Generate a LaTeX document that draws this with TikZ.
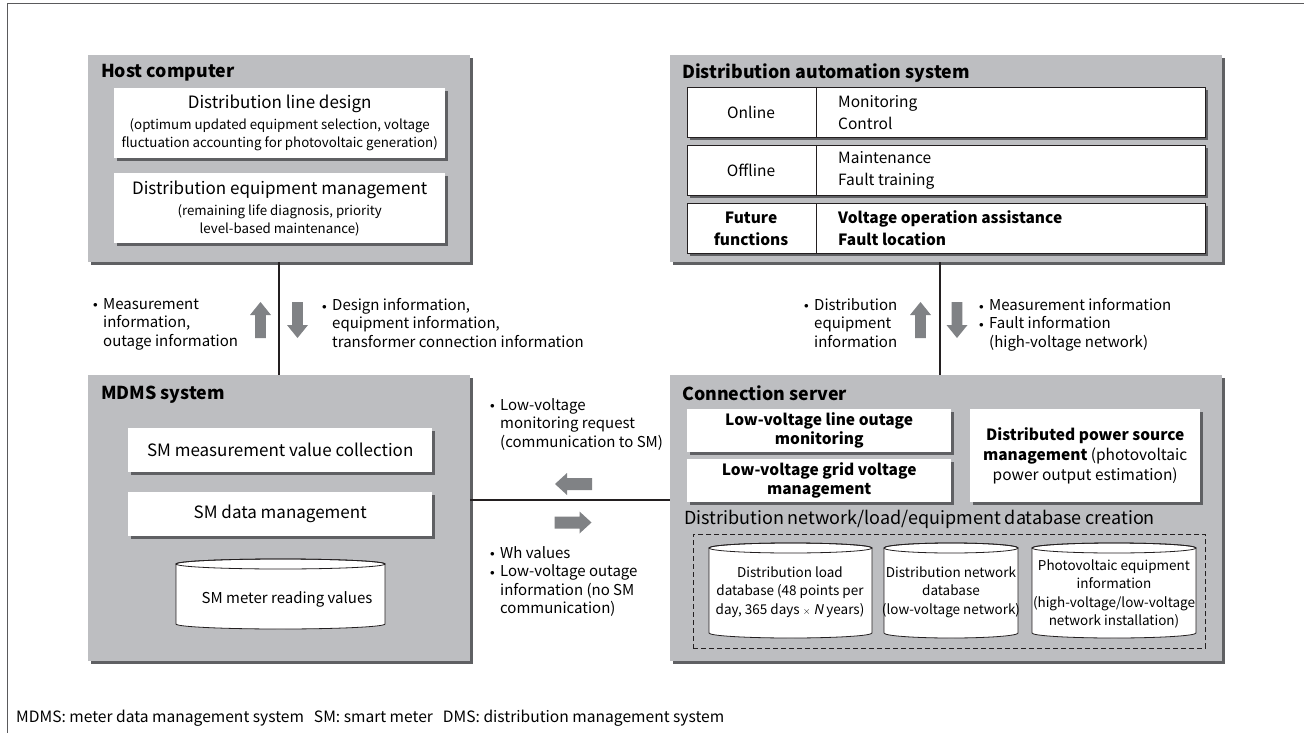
\documentclass[tikz,border=0pt]{standalone}
\usepackage{fontspec}
\usepackage{graphicx}
\setmainfont{Noto Sans CJK JP}[AutoFakeSlant=0.2]
\usetikzlibrary{shadows}

\definecolor{boxgray}{RGB}{189,190,193}
\definecolor{shadegray}{RGB}{95,96,99}
\definecolor{arrowgray}{RGB}{128,130,133}
\definecolor{ink}{RGB}{35,31,32}
\definecolor{framegray}{RGB}{90,90,92}

% type sizes (1pt = 1px of the final image)
\newcommand\fTitle{\fontsize{17.8}{21}\selectfont\bfseries}
\newcommand\fMid{\fontsize{15}{18.5}\selectfont}
\newcommand\fHead{\fontsize{17}{20}\selectfont}
\newcommand\fSub{\fontsize{13.3}{18}\selectfont}
\newcommand\fDas{\fontsize{15.5}{22}\selectfont}
\newcommand\fBold{\fontsize{15.5}{19}\selectfont\bfseries}
\newcommand\fRight{\fontsize{15.5}{20}\selectfont}
\newcommand\fCap{\fontsize{18}{21}\selectfont}
\newcommand\fCyl{\fontsize{13.5}{18.5}\selectfont}
\newcommand\fSM{\fontsize{17}{20}\selectfont}
\newcommand\fFoot{\fontsize{15.6}{18}\selectfont}

% list bullet and hanging indent
\newcommand\bul{\makebox[10pt][l]{\raisebox{1.2pt}{\fontsize{9}{9}\selectfont$\bullet$}}}
\newcommand\ind{\hspace*{10pt}}

% block arrows: centre x, centre y, direction (+1 right/down, -1 left/up)
\newcommand\harrow[3]{\fill[arrowgray] ({#1-#3*18.5},{#2-6}) -- ({#1+#3*6.5},{#2-6}) -- ({#1+#3*6.5},{#2-11}) -- ({#1+#3*18.5},#2) -- ({#1+#3*6.5},{#2+11}) -- ({#1+#3*6.5},{#2+6}) -- ({#1-#3*18.5},{#2+6}) -- cycle;}
\newcommand\varrow[3]{\fill[arrowgray] ({#1-5.3},{#2-#3*18}) -- ({#1-5.3},{#2+#3*5}) -- ({#1-10.5},{#2+#3*5}) -- (#1,{#2+#3*18}) -- ({#1+10.5},{#2+#3*5}) -- ({#1+5.3},{#2+#3*5}) -- ({#1+5.3},{#2-#3*18}) -- cycle;}

% database cylinder: x1, y1, x2, y2 (top-left and bottom-right), ellipse half-height 5
\newcommand\dbcyl[4]{%
  \filldraw[fill=white, draw=ink, line width=0.8pt]
    (#1,{#2+5}) -- (#1,{#4-5}) arc[start angle=180, end angle=0, x radius={(#3-#1)/2}, y radius=5]
    -- (#3,{#2+5}) arc[start angle=0, end angle=-180, x radius={(#3-#1)/2}, y radius=5] -- cycle;
  \draw[ink, line width=0.8pt] ({(#1+#3)/2},{#2+5}) ellipse[x radius={(#3-#1)/2}, y radius=5];}

\begin{document}
\begin{tikzpicture}[x=1pt, y=-1pt,
  shade/.style={drop shadow={shadow xshift=2.5pt, shadow yshift=-2.5pt, fill=shadegray, opacity=1}},
  panel/.style={fill=boxgray, draw=none, inner sep=0, anchor=north west, shade},
  wbox/.style={fill=white, draw=none, inner sep=0, anchor=north west, align=center, shade},
  rowbox/.style={fill=white, draw=ink, line width=0.8pt, inner sep=0, anchor=north west, shade},
  title/.style={font=\fTitle, inner sep=0, anchor=west},
  note/.style={font=\fMid, inner sep=0, anchor=north west, align=left},
  conn/.style={draw=ink, line width=1.5pt},
  dashbox/.style={draw=ink, line width=0.8pt, dash pattern=on 5pt off 3pt, inner sep=0, anchor=north west}]

\fill[white] (0,0) rectangle (1304,733);
\useasboundingbox (0,0) rectangle (1304,733);

% outer frame (top and left rules)
\draw[framegray, line width=1.3pt] (7.5,733) -- (7.5,3.5) -- (1304,3.5);

% ---------------- Host computer ----------------
\node[panel, minimum width=382pt, minimum height=207pt] (host) at (88,55) {};
\node[title] (hostT) at (101,73) {Host computer};
\node[wbox, minimum width=331pt, minimum height=70pt, font=\fSub] (design) at (114,88)
  {{\fHead Distribution line design}\\[3pt](optimum updated equipment selection, voltage\\fluctuation accounting for photovoltaic generation)};
\node[wbox, minimum width=331pt, minimum height=70pt, font=\fSub] (equip) at (114,173)
  {{\fHead Distribution equipment management}\\[3pt](remaining life diagnosis, priority\\level-based maintenance)};

% ---------------- Distribution automation system ----------------
\node[panel, minimum width=552pt, minimum height=207pt] (das) at (670,55) {};
\node[title] (dasT) at (682,73) {Distribution automation system};
\node[rowbox, minimum width=518pt, minimum height=50pt] (row1) at (687,87) {};
\node[rowbox, minimum width=518pt, minimum height=50pt] (row2) at (687,145) {};
\node[rowbox, minimum width=518pt, minimum height=50pt] (row3) at (687,203) {};
\foreach \r in {row1,row2,row3}
  \draw[ink, line width=0.8pt] ([xshift=129pt]\r.north west) -- ([xshift=129pt]\r.south west);
\node[font=\fDas, inner sep=0] (on) at ([xshift=64pt]row1.west) {Online};
\node[font=\fDas, inner sep=0, anchor=west, align=left] (onR) at ([xshift=151pt]row1.west) {Monitoring\\Control};
\node[font=\fDas, inner sep=0] (off) at ([xshift=64pt]row2.west) {Offline};
\node[font=\fDas, inner sep=0, anchor=west, align=left] (offR) at ([xshift=151pt]row2.west) {Maintenance\\Fault training};
\node[font=\fDas\bfseries, inner sep=0, align=center] (fut) at ([xshift=64pt]row3.west) {Future\\functions};
\node[font=\fDas\bfseries, inner sep=0, anchor=west, align=left] (futR) at ([xshift=151pt]row3.west) {Voltage operation assistance\\Fault location};

% ---------------- MDMS system ----------------
\node[panel, minimum width=382pt, minimum height=286pt] (mdms) at (88,375) {};
\node[title] (mdmsT) at (101,395) {MDMS system};
\node[wbox, minimum width=304pt, minimum height=44pt, font=\fSM] (smc) at (128,428) {SM measurement value collection};
\node[wbox, minimum width=304pt, minimum height=44pt, font=\fSM] (smd) at (128,492) {SM data management};
\dbcyl{176}{559}{385}{629}
\node[font=\fMid, inner sep=0] (smr) at (287,599) {SM meter reading values};

% ---------------- Connection server ----------------
\node[panel, minimum width=552pt, minimum height=286pt] (cs) at (670,375) {};
\node[title] (csT) at (682,393) {Connection server};
\node[wbox, minimum width=264pt, minimum height=43pt, font=\fBold] (lvo) at (687,409) {Low-voltage line outage\\monitoring};
\node[wbox, minimum width=264pt, minimum height=43pt, font=\fBold] (lvg) at (687,459) {Low-voltage grid voltage\\management};
\node[wbox, minimum width=230pt, minimum height=93pt, font=\fRight] (dps) at (970,409)
  {\textbf{Distributed power source}\\\textbf{management} (photovoltaic\\power output estimation)};
\node[font=\fCap, inner sep=0, anchor=west] (dbc) at (684,519) {Distribution network/load/equipment database creation};
\node[dashbox, minimum width=512pt, minimum height=114pt] (dbf) at (693,534) {};
\dbcyl{709}{543}{872}{638}
\dbcyl{884}{543}{1018}{638}
\dbcyl{1032}{543}{1196}{638}
\node[font=\fCyl, inner sep=0, align=center] (db1) at (790,592) {Distribution load\\database (48 points per\\day, 365 days {\fontsize{10}{10}\selectfont$\times$} \textit{N} years)};
\node[font=\fCyl, inner sep=0, align=center] (db2) at (951,592) {Distribution network\\database\\(low-voltage network)};
\node[font=\fCyl, inner sep=0, align=center] (db3) at (1114,594) {Photovoltaic equipment\\information\\(high-voltage/low-voltage\\network installation)};

% ---------------- connectors ----------------
\draw[conn] (host.south) -- (mdms.north);
\draw[conn] ([xshift=-6pt]das.south) -- ([xshift=-6pt]cs.north);
\draw[conn] (mdms.east |- 0,500) -- (cs.west |- 0,500);

\varrow{260.5}{320}{-1}
\varrow{297.5}{320}{1}
\varrow{920.5}{320}{-1}
\varrow{957}{320}{1}
\harrow{573.5}{484}{-1}
\harrow{573}{522.5}{1}

% ---------------- flow notes ----------------
\node[note] (n1) at (93,298) {\bul Measurement\\\ind information,\\\ind outage information};
\node[note] (n2) at (322,298) {\bul Design information,\\\ind equipment information,\\\ind transformer connection information};
\node[note] (n3) at (804,298) {\bul Distribution\\\ind equipment\\\ind information};
\node[note] (n4) at (979,298) {\bul Measurement information\\\bul Fault information\\\ind (high-voltage network)};
\node[note] (n5) at (490,398) {\bul Low-voltage\\\ind monitoring request\\\ind (communication to SM)};
\node[note] (n6) at (490,546) {\bul Wh values\\\bul Low-voltage outage\\\ind information (no SM\\\ind communication)};

% footnote
\node[font=\fFoot, inner sep=0, anchor=west] (foot) at (16,718)
  {MDMS: meter data management system\hspace{10pt}SM: smart meter\hspace{10pt}DMS: distribution management system};
\end{tikzpicture}
\end{document}
